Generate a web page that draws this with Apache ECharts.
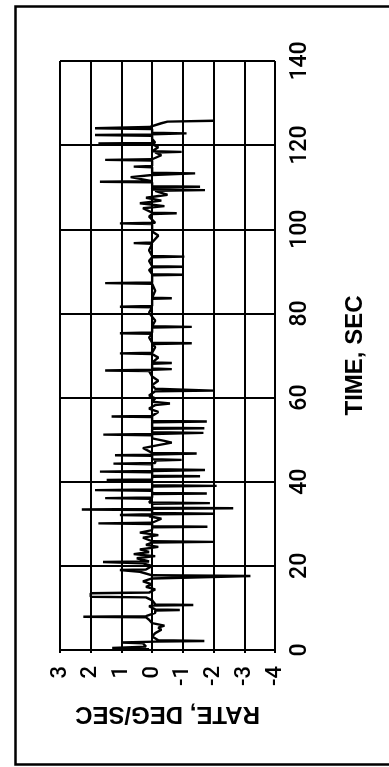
<!DOCTYPE html>
<html>
<head>
<meta charset="utf-8">
<script src="https://cdn.jsdelivr.net/npm/echarts@6/dist/echarts.min.js"></script>
<style>
html,body{margin:0;padding:0;background:#fff;}
#chart{width:389px;height:767px;}
</style>
</head>
<body>
<div id="chart"></div>
<script>
// Axis ticks
const timeTicks = [0, 20, 40, 60, 80, 100, 120, 140];   // TIME, SEC
const rateTicks = [3, 2, 1, 0, -1, -2, -3, -4];          // RATE, DEG/SEC

const times = [
0.2,0.5,0.8,1.6,1.8,2.0,2.15,2.3,3.2,4.0,4.8,5.3,5.8,6.4,7.2,7.75,7.9,8.05,8.8,9.35,
9.5,9.65,10.4,10.55,10.7,10.85,11.8,12.5,12.65,13.5,13.65,14.4,15.0,15.6,16.3,17.0,17.45,17.6,17.75,18.6,
18.85,19.0,19.15,20.0,20.6,20.75,20.9,21.05,21.8,22.3,22.8,23.3,23.9,24.5,25.0,25.55,25.7,25.85,26.7,27.3,
27.9,28.5,29.15,29.3,29.45,29.95,30.1,30.25,31.2,31.8,31.95,32.1,32.25,32.4,32.55,33.25,33.4,33.55,33.7,33.85,
34.75,34.9,35.05,35.95,36.1,36.25,37.05,37.2,37.35,37.85,38.0,38.15,38.85,39.0,39.15,40.25,40.4,40.55,41.15,41.3,
41.45,42.25,42.4,42.55,42.8,42.95,44.15,44.3,44.45,45.05,45.2,45.35,46.15,46.3,46.45,46.7,46.85,48.0,48.7,49.3,
49.7,50.3,51.05,51.2,51.35,51.6,51.75,52.55,52.7,52.85,54.15,54.3,54.45,55.35,55.5,55.65,56.6,57.4,58.2,58.6,
59.0,59.8,60.5,61.5,61.65,61.95,62.1,63.0,64.0,65.0,66.3,66.45,66.6,66.75,66.9,68.05,68.2,68.35,69.5,70.35,
70.5,70.65,72.0,72.75,72.9,73.05,74.3,75.15,75.3,75.45,76.65,76.8,76.95,78.3,79.2,80.2,81.45,81.6,81.75,83.45,
83.6,83.75,85.4,87.05,87.2,87.35,89.05,89.2,89.35,90.3,90.95,91.1,91.25,92.5,93.35,93.5,93.65,95.0,96.55,96.7,
96.85,98.5,99.5,101.25,101.4,101.55,103.0,103.65,103.8,103.95,105.0,105.5,106.2,106.8,107.5,108.2,109.15,109.3,109.45,109.95,
110.1,110.25,111.15,111.3,111.45,112.4,112.9,113.15,113.3,113.45,114.75,114.9,115.05,116.35,116.5,116.65,117.6,118.25,118.4,118.55,
119.5,120.25,120.4,120.55,121.5,122.25,122.4,122.55,122.8,122.95,123.85,124.0,124.3,125.2,125.6,125.8];
const rates = [
0.1,1.3,0.2,0.3,1.0,-0.1,-1.7,-0.2,0.0,-0.1,-0.3,-0.2,-0.4,0.0,0.1,0.2,2.24,0.2,-0.1,-0.1,
-0.9,-0.1,0.1,0.0,-1.34,-0.1,0.0,0.2,2.0,2.0,0.1,-0.1,0.2,0.0,0.3,0.0,0.0,-3.2,0.0,0.4,
0.4,1.05,0.2,0.0,0.3,0.3,1.6,0.1,0.5,-0.1,0.6,0.1,0.4,-0.2,0.2,0.0,-2.0,0.0,0.3,-0.2,
0.4,0.0,0.0,-1.8,0.0,0.0,1.75,0.0,-0.3,0.1,0.0,1.05,0.0,-2.0,0.0,0.0,2.29,0.0,-2.64,0.0,
0.0,-1.88,0.1,0.0,1.53,0.0,0.0,-1.78,0.0,0.0,1.86,0.0,0.0,-2.1,0.0,0.0,1.48,0.0,0.0,-1.56,
0.0,0.0,1.7,0.0,-1.72,0.0,0.0,1.26,-0.1,-0.1,-0.96,0.0,0.0,1.21,0.0,-1.45,0.0,0.3,-0.2,-0.64,
-0.4,0.0,0.0,1.59,0.0,-1.67,0.0,0.0,-1.7,0.0,0.0,-1.78,0.0,0.0,1.32,0.0,-0.2,0.1,-0.1,-0.58,
0.0,-0.1,0.1,-0.1,-2.0,-2.0,-0.1,0.0,-0.2,0.0,0.1,1.53,0.0,-0.64,0.0,0.0,-0.64,0.0,-0.2,0.0,
1.05,0.0,-0.1,0.0,-1.29,0.0,0.1,0.0,1.05,0.0,0.0,-1.29,0.0,-0.1,0.0,0.1,0.0,1.05,0.0,0.0,
-0.64,0.0,-0.1,0.0,1.53,0.0,0.0,-1.02,0.0,0.1,0.0,-1.02,0.0,0.1,0.0,-1.05,0.0,0.1,0.0,0.6,
0.0,-0.2,0.0,0.0,1.05,-0.1,0.1,0.0,-0.8,0.0,0.3,-0.4,0.4,-0.3,0.2,-0.5,-0.1,-1.72,0.0,0.0,
-1.56,0.0,0.0,1.7,0.0,0.7,0.0,0.0,-1.4,0.0,0.0,0.6,0.0,0.0,1.53,0.0,-0.3,-0.1,-0.96,0.0,
-0.2,0.0,1.75,-0.1,0.0,0.0,1.86,0.0,-1.12,0.0,0.0,1.86,0.1,-0.3,-0.5,-2.0];

const data = times.map((t, i) => [rates[i], t]);

const chart = echarts.init(document.getElementById('chart'), null, {renderer: 'canvas'});
const FONT = 'Liberation Sans';
const TICKFONT = 'Roboto';
chart.setOption({
  animation: false,
  backgroundColor: '#fff',
  grid: {left: 60, right: 114, top: 61, bottom: 117, containLabel: false},
  xAxis: {
    type: 'value', inverse: true,
    min: rateTicks[rateTicks.length - 1], max: rateTicks[0], interval: 1,
    position: 'bottom',
    axisLine: {show: true, lineStyle: {color: '#000', width: 2}},
    axisTick: {show: true, length: 3, lineStyle: {color: '#000', width: 2}},
    splitLine: {show: true, lineStyle: {color: '#000', width: 2}},
    axisLabel: {rotate: 90, margin: 16, fontSize: 22, fontWeight: 500, color: '#000', fontFamily: TICKFONT},
    name: 'RATE, DEG/SEC', nameLocation: 'middle', nameRotate: 180, nameGap: 52,
    nameTextStyle: {fontSize: 24, fontWeight: 'bold', color: '#000', fontFamily: FONT}
  },
  yAxis: {
    type: 'value', min: timeTicks[0], max: timeTicks[timeTicks.length - 1], interval: 20,
    position: 'right',
    axisLine: {show: true, lineStyle: {color: '#000', width: 2}},
    axisTick: {show: false},
    splitLine: {show: true, lineStyle: {color: '#000', width: 2}},
    axisLabel: {rotate: 90, margin: 14, fontSize: 23, fontWeight: 500, color: '#000', fontFamily: TICKFONT},
    name: 'TIME, SEC', nameLocation: 'middle', nameRotate: 90, nameGap: 68,
    nameTextStyle: {fontSize: 24, fontWeight: 'bold', color: '#000', fontFamily: FONT}
  },
  graphic: [{
    type: 'rect', left: 13, top: 4,
    shape: {width: 400, height: 758},
    style: {fill: 'none', stroke: '#000', lineWidth: 2.5}
  }],
  series: [{
    type: 'line', data: data, showSymbol: false, symbol: 'none',
    lineStyle: {color: '#000', width: 2.4}, z: 3
  }]
});
</script>
</body>
</html>
